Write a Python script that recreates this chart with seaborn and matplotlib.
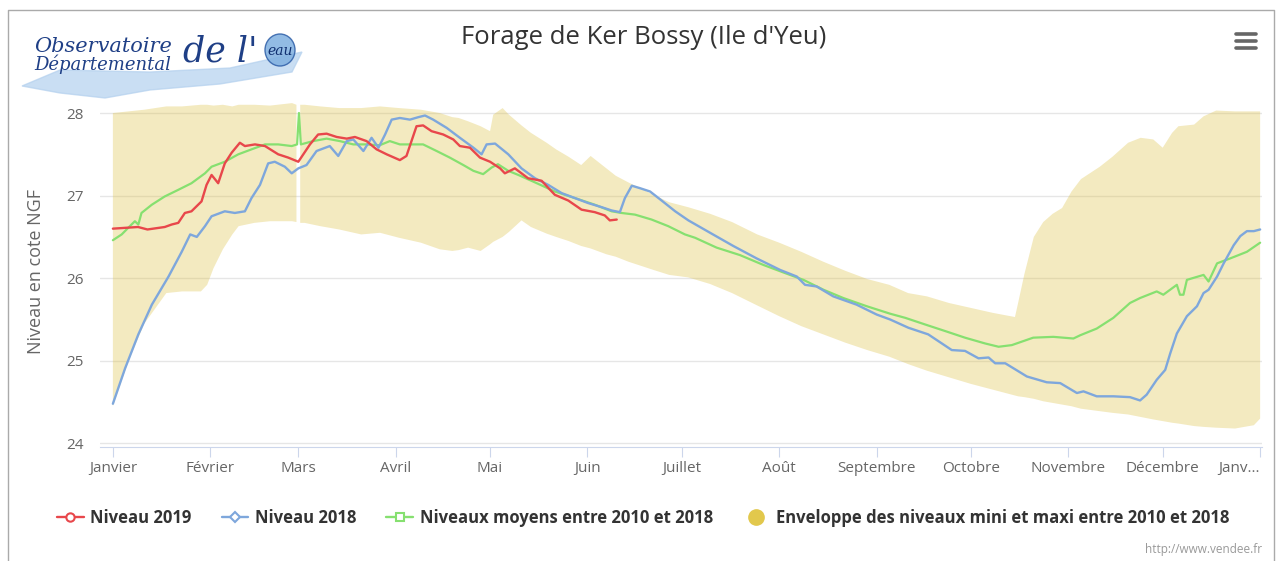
import numpy as np
import matplotlib
matplotlib.use("Agg")
import matplotlib.pyplot as plt
from matplotlib.lines import Line2D
from matplotlib.patches import Polygon, Ellipse
import seaborn as sns

# day of year (0 = 1 janvier)
days_2019 = [0, 8, 11, 16.5, 18.7, 20.8, 22.9, 25, 26.6, 28.2, 29.8, 31.4, 33.5, 35.6, 37.8, 40.4, 42,
             45.2, 48.4, 52.6, 55.8, 59, 62.7, 65.3, 68, 71.2, 74.4, 77, 80.7, 83.9, 87.1, 91.3, 93.4,
             95, 96.6, 98.7, 101.4, 105.1, 108.3, 110.4, 113.6, 116.8, 120, 123.2, 124.7, 127.9, 132.1,
             136.4, 140.6, 144.9, 149.1, 153.3, 156.5, 158.1, 160.3]
niveau_2019 = [26.6, 26.62, 26.59, 26.62, 26.65, 26.67, 26.79, 26.81, 26.87, 26.93, 27.13, 27.25, 27.15,
               27.39, 27.52, 27.64, 27.6, 27.62, 27.6, 27.5, 27.46, 27.41, 27.62, 27.74, 27.75, 27.71,
               27.69, 27.71, 27.66, 27.56, 27.5, 27.43, 27.48, 27.66, 27.84, 27.85, 27.78, 27.74, 27.68,
               27.6, 27.58, 27.46, 27.41, 27.33, 27.27, 27.33, 27.21, 27.18, 27.01, 26.94, 26.83, 26.8,
               26.76, 26.7, 26.71]

days_2018 = [0, 3.9, 8.1, 12.4, 17.7, 21.9, 24.6, 26.7, 29.3, 31.4, 35.6, 38.8, 42, 44.1, 46.8, 49.4,
             51.5, 54.7, 56.9, 59, 61.6, 64.8, 69, 71.7, 74.4, 76.5, 79.7, 82.3, 84.5, 86.6, 88.7, 91.3,
             94.5, 97.2, 99.3, 101.9, 106.2, 110.4, 114.7, 117.3, 118.9, 121.6, 125.8, 130, 134.3, 138.5,
             142.8, 147, 151.2, 155.5, 158.7, 161.3, 162.9, 165.1, 167.7, 170.9, 174.6, 178.9, 183.1, 190,
             197.4, 204.8, 212.3, 217.6, 220.2, 223.9, 229.2, 236.6, 243, 247.3, 253.1, 259.4, 266.9,
             271.1, 275.4, 278.6, 280.7, 283.9, 286.5, 290.8, 297.1, 301.4, 306.7, 308.8, 313, 318.3,
             323.6, 326.8, 328.9, 332.1, 334.8, 336.4, 338.5, 341.7, 344.9, 347, 348.6, 351.3, 353.4,
             356.6, 358.7, 360.8, 363, 365]
niveau_2018 = [24.48, 24.91, 25.32, 25.68, 26.02, 26.32, 26.53, 26.5, 26.63, 26.75, 26.81, 26.79, 26.81,
               26.97, 27.13, 27.39, 27.41, 27.35, 27.27, 27.33, 27.37, 27.54, 27.6, 27.48, 27.66, 27.68,
               27.54, 27.7, 27.58, 27.74, 27.92, 27.94, 27.92, 27.95, 27.97, 27.92, 27.82, 27.7, 27.58,
               27.5, 27.62, 27.63, 27.5, 27.33, 27.21, 27.13, 27.03, 26.97, 26.91, 26.86, 26.82, 26.8,
               26.97, 27.12, 27.09, 27.05, 26.94, 26.81, 26.7, 26.55, 26.39, 26.24, 26.1, 26.02, 25.92,
               25.9, 25.78, 25.68, 25.56, 25.5, 25.4, 25.32, 25.13, 25.12, 25.03, 25.04, 24.97, 24.97,
               24.91, 24.81, 24.74, 24.73, 24.61, 24.63, 24.57, 24.57, 24.56, 24.52, 24.59, 24.77, 24.89,
               25.09, 25.33, 25.54, 25.66, 25.82, 25.86, 26.02, 26.18, 26.4, 26.51, 26.57, 26.57, 26.59]

days_moy = [0, 2.8, 5.4, 7, 8.1, 9.1, 12.4, 16.5, 20.8, 25, 29.3, 31.4, 35.6, 39.9, 44.1, 48.4, 52.6,
            56.9, 58.6, 59.2, 59.8, 63.7, 68, 72.2, 76.5, 80.7, 84.9, 88.1, 91.3, 94.5, 98.7, 103,
            107.2, 111.5, 114.7, 117.8, 120.5, 122.5, 125.8, 129, 134.3, 140.6, 147, 153.3, 158.7,
            161.8, 166.1, 171.4, 176.7, 182, 185.2, 192.1, 199.5, 207, 213.3, 219.7, 226.1, 232.4,
            239.9, 247.3, 252.1, 258.4, 264.8, 271.1, 277.5, 281.8, 286, 292.8, 299.2, 305.6, 307.8,
            313, 318.3, 323.6, 326.8, 332.1, 334.2, 338.5, 339.5, 340.6, 341.7, 347, 348.6, 351.3,
            355.5, 360.8, 365]
niveau_moy = [26.46, 26.53, 26.63, 26.69, 26.65, 26.79, 26.89, 26.99, 27.07, 27.15, 27.27, 27.35, 27.41,
              27.5, 27.56, 27.62, 27.62, 27.6, 27.62, 28.0, 27.62, 27.66, 27.69, 27.66, 27.62, 27.62,
              27.61, 27.66, 27.62, 27.62, 27.62, 27.54, 27.46, 27.37, 27.3, 27.26, 27.34, 27.38, 27.3,
              27.25, 27.16, 27.05, 26.97, 26.89, 26.81, 26.79, 26.77, 26.71, 26.63, 26.53, 26.49, 26.37,
              26.28, 26.16, 26.07, 25.98, 25.86, 25.76, 25.66, 25.57, 25.52, 25.44, 25.36, 25.28, 25.21,
              25.17, 25.19, 25.28, 25.29, 25.27, 25.31, 25.39, 25.52, 25.7, 25.76, 25.84, 25.8, 25.92,
              25.8, 25.8, 25.98, 26.04, 25.96, 26.18, 26.24, 26.32, 26.43]

env_days = [0, 5, 10, 17, 22, 28, 30, 32, 35, 38, 40, 45, 50, 57, 58.4, 59, 59.6, 61, 66, 72, 79, 85,
            91, 98, 104, 108, 110, 113, 117, 120, 121, 124, 126, 130, 133, 138, 141, 145, 149, 152, 157,
            160, 164, 172, 177, 183, 190, 197, 205, 212, 219, 226, 233, 240, 247, 253, 259, 266, 273,
            280, 287, 288, 290, 293, 296, 299, 302, 305, 308, 314, 318, 323, 327, 331, 334, 337, 339,
            344, 347, 351, 357, 363, 365]
env_max = [28.0, 28.02, 28.04, 28.08, 28.08, 28.1, 28.1, 28.09, 28.1, 28.08, 28.1, 28.1, 28.09, 28.12,
           28.1, np.nan, 28.1, 28.1, 28.08, 28.06, 28.06, 28.08, 28.06, 28.04, 28.0, 27.95, 27.94, 27.9,
           27.84, 27.78, 27.98, 28.06, 27.98, 27.85, 27.76, 27.64, 27.56, 27.47, 27.37, 27.48, 27.33,
           27.24, 27.16, 27.01, 26.92, 26.86, 26.78, 26.68, 26.53, 26.43, 26.32, 26.2, 26.09, 25.99,
           25.92, 25.82, 25.78, 25.7, 25.64, 25.58, 25.53, 25.7, 26.05, 26.5, 26.68, 26.78, 26.85,
           27.05, 27.2, 27.35, 27.47, 27.64, 27.7, 27.68, 27.58, 27.76, 27.84, 27.86, 27.96, 28.03,
           28.02, 28.02, 28.02]
env_min = [24.45, 25.0, 25.45, 25.82, 25.84, 25.84, 25.92, 26.12, 26.35, 26.53, 26.63, 26.67, 26.69,
           26.69, 26.68, np.nan, 26.67, 26.67, 26.63, 26.59, 26.53, 26.55, 26.49, 26.43, 26.35, 26.33,
           26.34, 26.37, 26.33, 26.41, 26.44, 26.5, 26.56, 26.7, 26.62, 26.54, 26.5, 26.45, 26.39,
           26.36, 26.29, 26.26, 26.2, 26.1, 26.04, 26.01, 25.93, 25.82, 25.67, 25.54, 25.42, 25.32,
           25.22, 25.13, 25.05, 24.96, 24.88, 24.8, 24.72, 24.65, 24.58, 24.57, 24.56, 24.54, 24.51,
           24.49, 24.47, 24.45, 24.42, 24.39, 24.37, 24.35, 24.32, 24.29, 24.27, 24.25, 24.24, 24.21,
           24.2, 24.19, 24.18, 24.22, 24.3]

month_days = [0, 31, 59, 90, 120, 151, 181, 212, 243, 273, 304, 334, 365]
month_labels = ["Janvier", "Février", "Mars", "Avril", "Mai", "Juin", "Juillet", "Août",
                "Septembre", "Octobre", "Novembre", "Décembre", "Janv..."]

red = "#e8474b"
blue = "#7ea7dc"
green = "#86e070"
yellow = "#dcc040"

sns.set_style("white")
plt.rcParams["font.family"] = ["Open Sans", "DejaVu Sans"]

W, H = 1279, 561


def fx(px):
    return px / W


def fy(py):
    return 1 - py / H


fig = plt.figure(figsize=(12.79, 5.61), dpi=100)
ax = fig.add_axes([fx(100), fy(446.7), 1161.7 / W, (446.7 - 96.5) / H])

ax.fill_between(env_days, env_min, env_max, color=yellow, alpha=0.33, linewidth=0, zorder=1)
sns.lineplot(x=days_moy, y=niveau_moy, ax=ax, color=green, linewidth=1.6, zorder=3)
sns.lineplot(x=days_2018, y=niveau_2018, ax=ax, color=blue, linewidth=1.7, zorder=4)
sns.lineplot(x=days_2019, y=niveau_2019, ax=ax, color=red, linewidth=1.7, zorder=5)

ax.set_xlim(-4.1, 365.5)
ax.set_ylim(23.96, 28.2)
ax.set_yticks([24, 25, 26, 27, 28])
ax.set_xticks(month_days)
ax.set_xticklabels(month_labels)
ax.get_xticklabels()[-1].set_horizontalalignment("right")
ax.grid(axis="y", color="#e6e6e6", linewidth=1)
ax.set_axisbelow(True)
for s in ["top", "right", "left"]:
    ax.spines[s].set_visible(False)
ax.spines["bottom"].set_color("#ccd6eb")
ax.tick_params(axis="x", length=7, color="#ccd6eb", labelsize=11, labelcolor="#666666", pad=3, bottom=True)
ax.tick_params(axis="y", length=0, labelsize=11, labelcolor="#666666", pad=12)
ax.set_xlabel("")
ax.set_ylabel("Niveau en cote NGF", fontsize=13, color="#666666")
ax.yaxis.set_label_coords(-0.047, 0.5)

fig.text(0.503, fy(38), "Forage de Ker Bossy (Ile d'Yeu)", ha="center", va="center",
         fontsize=18.5, color="#333333")

# logo
swoosh = Polygon([(fx(22), fy(86)), (fx(60), fy(70)), (fx(150), fy(72)), (fx(230), fy(68)),
                  (fx(302), fy(52)), (fx(292), fy(72)), (fx(220), fy(84)), (fx(150), fy(90)),
                  (fx(105), fy(98)), (fx(60), fy(93))],
                 closed=True, transform=fig.transFigure, color="#b3d0ee", alpha=0.7, zorder=0)
fig.patches.append(swoosh)
drop = Ellipse((fx(280), fy(50)), 30 / W, 32 / H, transform=fig.transFigure,
               facecolor="#7fb0e0", edgecolor="#2f5fa8", linewidth=1, alpha=0.85, zorder=0)
fig.patches.append(drop)
fig.text(fx(34), fy(46), "Observatoire", fontsize=15, style="italic", family="DejaVu Serif",
         color="#1f3f86", va="center")
fig.text(fx(34), fy(64), "Départemental", fontsize=13, style="italic", family="DejaVu Serif",
         color="#1f3f86", va="center")
fig.text(fx(183), fy(52), "de l'", fontsize=25, style="italic", family="DejaVu Serif",
         color="#1f3f86", va="center")
fig.text(fx(280), fy(51), "eau", fontsize=10, style="italic", family="DejaVu Serif",
         color="#0f2f70", ha="center", va="center")

# menu icon
for yy in [34, 41, 48]:
    fig.add_artist(Line2D([fx(1236), fx(1256)], [fy(yy), fy(yy)],
                          color="#666666", linewidth=2.6, transform=fig.transFigure))

# frame
fig.add_artist(Line2D([fx(8), fx(8), fx(1274), fx(1274)], [0, fy(10), fy(10), 0],
                      color="#aaaaaa", linewidth=1, transform=fig.transFigure))

handles = [
    Line2D([], [], color=red, lw=1.7, marker="o", markersize=6, markerfacecolor="white", markeredgewidth=1.5),
    Line2D([], [], color=blue, lw=1.7, marker="D", markersize=5, markerfacecolor="white", markeredgewidth=1.5),
    Line2D([], [], color=green, lw=1.7, marker="s", markersize=6, markerfacecolor="white", markeredgewidth=1.5),
    Line2D([], [], color="#e2c84c", lw=0, marker="o", markersize=11),
]
labels = ["Niveau 2019", "Niveau 2018", "Niveaux moyens entre 2010 et 2018",
          "Enveloppe des niveaux mini et maxi entre 2010 et 2018"]
fig.legend(handles, labels, loc="center", bbox_to_anchor=(0.503, fy(518)), ncol=4, frameon=False,
           prop={"weight": "bold", "size": 12}, handlelength=1.6, handletextpad=0.4, columnspacing=1.8,
           labelcolor="#333333")

fig.text(fx(1262), fy(550), "http://www.vendee.fr", ha="right", va="center", fontsize=8.5,
         color="#999999")

fig.savefig("out.png", dpi=100)
